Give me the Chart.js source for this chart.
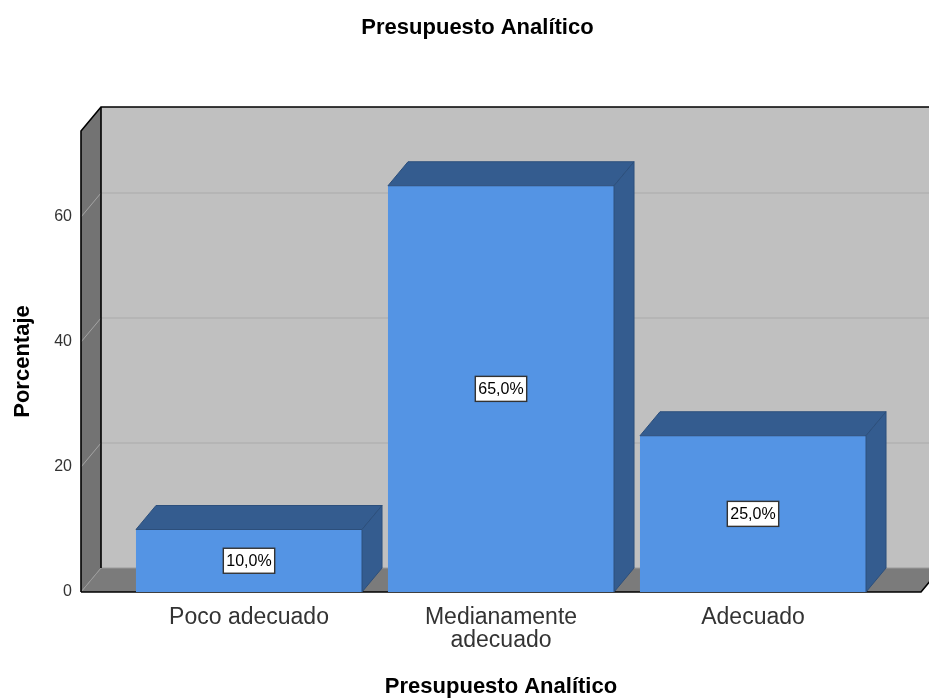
<!DOCTYPE html>
<html>
<head>
<meta charset="utf-8">
<script src="https://cdn.jsdelivr.net/npm/chart.js@4"></script>
<style>
  html, body { margin: 0; padding: 0; background: #fff; overflow: hidden; }
  #wrap { position: relative; width: 955px; height: 698px; }
</style>
</head>
<body>
<div id="wrap"><canvas id="c"></canvas></div>
<script>
const categories = ['Poco adecuado', ['Medianamente', 'adecuado'], 'Adecuado'];
const percentages = [10, 65, 25];
const yTicks = [0, 20, 40, 60];
const yMax = 73.76;
const chartTitle = 'Presupuesto Analítico';
const xTitle = 'Presupuesto Analítico';
const yTitle = 'Porcentaje';

const FONT = "'Liberation Sans', Arial, sans-serif";
const DX = 20, DY = -24;

const box3d = {
  id: 'box3d',
  beforeDatasetsDraw(chart) {
    const {ctx, chartArea: a, scales: {x, y}} = chart;
    const catW = x.getPixelForTick(1) - x.getPixelForTick(0);
    const ext = catW / 6;
    const L = a.left - ext, R = a.right + ext, T = a.top, B = y.getPixelForValue(0);
    ctx.save();
    ctx.fillStyle = '#c0c0c0';
    ctx.fillRect(L + DX, T + DY, R - L, B - T);
    ctx.fillStyle = '#737373';
    ctx.beginPath();
    ctx.moveTo(L, T); ctx.lineTo(L + DX, T + DY); ctx.lineTo(L + DX, B + DY); ctx.lineTo(L, B);
    ctx.closePath(); ctx.fill();
    ctx.fillStyle = '#7b7b7b';
    ctx.beginPath();
    ctx.moveTo(L, B); ctx.lineTo(L + DX, B + DY); ctx.lineTo(R + DX, B + DY); ctx.lineTo(R, B);
    ctx.closePath(); ctx.fill();
    yTicks.forEach(v => {
      if (v === 0) return;
      const py = y.getPixelForValue(v);
      ctx.strokeStyle = '#a4a4a4';
      ctx.lineWidth = 1;
      ctx.beginPath(); ctx.moveTo(L, py); ctx.lineTo(L + DX, py + DY); ctx.stroke();
      ctx.strokeStyle = '#aaaaaa';
      ctx.beginPath(); ctx.moveTo(L + DX, py + DY); ctx.lineTo(R + DX, py + DY); ctx.stroke();
    });
    ctx.strokeStyle = '#9a9a9a';
    ctx.lineWidth = 1;
    ctx.beginPath(); ctx.moveTo(L + DX, B + DY); ctx.lineTo(R + DX, B + DY); ctx.stroke();
    ctx.beginPath(); ctx.moveTo(L, B); ctx.lineTo(L + DX, B + DY); ctx.stroke();
    ctx.strokeStyle = '#000';
    ctx.lineWidth = 1.6;
    ctx.beginPath();
    ctx.moveTo(L, B); ctx.lineTo(L, T); ctx.lineTo(L + DX, T + DY); ctx.lineTo(R + DX, T + DY);
    ctx.stroke();
    ctx.beginPath(); ctx.moveTo(L + DX, T + DY); ctx.lineTo(L + DX, B + DY); ctx.stroke();
    ctx.beginPath(); ctx.moveTo(L, B); ctx.lineTo(R, B); ctx.lineTo(R + DX, B + DY); ctx.stroke();
    ctx.restore();
  },
  afterDatasetsDraw(chart) {
    const {ctx, scales: {y}} = chart;
    const meta = chart.getDatasetMeta(0);
    const B = y.getPixelForValue(0);
    ctx.save();
    meta.data.forEach((bar, i) => {
      const p = bar.getProps(['x', 'y', 'width', 'base'], true);
      const x0 = p.x - p.width / 2, x1 = p.x + p.width / 2, yt = p.y;
      ctx.fillStyle = '#345c8f';
      ctx.strokeStyle = '#2c4f7c';
      ctx.lineWidth = 1;
      ctx.beginPath();
      ctx.moveTo(x0, yt); ctx.lineTo(x0 + DX, yt + DY); ctx.lineTo(x1 + DX, yt + DY); ctx.lineTo(x1, yt);
      ctx.closePath(); ctx.fill(); ctx.stroke();
      ctx.beginPath();
      ctx.moveTo(x1, yt); ctx.lineTo(x1 + DX, yt + DY); ctx.lineTo(x1 + DX, B + DY); ctx.lineTo(x1, B);
      ctx.closePath(); ctx.fill(); ctx.stroke();
      const txt = percentages[i].toFixed(1).replace('.', ',') + '%';
      ctx.font = '16px ' + FONT;
      const w = ctx.measureText(txt).width + 6;
      const h = 25;
      const cy = (yt + B) / 2;
      ctx.fillStyle = '#fff';
      ctx.fillRect(p.x - w / 2, cy - h / 2, w, h);
      ctx.strokeStyle = '#333';
      ctx.lineWidth = 1.4;
      ctx.strokeRect(p.x - w / 2, cy - h / 2, w, h);
      ctx.fillStyle = '#000';
      ctx.textAlign = 'center';
      ctx.textBaseline = 'middle';
      ctx.fillText(txt, p.x, cy + 1);
    });
    ctx.restore();
  }
};

new Chart(document.getElementById('c'), {
  type: 'bar',
  data: {
    labels: categories,
    datasets: [{
      data: percentages,
      backgroundColor: '#5494e4',
      borderWidth: 0,
      categoryPercentage: 1,
      barPercentage: 0.897
    }]
  },
  options: {
    responsive: true,
    maintainAspectRatio: false,
    animation: false,
    layout: { padding: 0 },
    plugins: {
      legend: { display: false },
      tooltip: { enabled: false },
      title: {
        display: true,
        text: chartTitle,
        color: '#000',
        font: { family: FONT, size: 22, weight: 'bold', lineHeight: 1.2 },
        padding: { top: 14.8, bottom: 89.8 }
      }
    },
    scales: {
      x: {
        grid: { display: false, drawTicks: false },
        border: { display: false },
        ticks: {
          color: '#333',
          font: { family: FONT, size: 23, lineHeight: 1.0 },
          padding: 14,
          maxRotation: 0,
          autoSkip: false
        },
        title: {
          display: true,
          text: xTitle,
          color: '#000',
          font: { family: FONT, size: 22, weight: 'bold', lineHeight: 1.2 },
          padding: { top: 0, bottom: -2 }
        },
        afterFit(s) { s.height = 106; }
      },
      y: {
        min: 0,
        max: yMax,
        grid: { display: false, drawTicks: false },
        border: { display: false },
        ticks: {
          stepSize: 20,
          includeBounds: false,
          color: '#333',
          padding: 51,
          font: { family: FONT, size: 16 }
        },
        title: {
          display: true,
          text: yTitle,
          color: '#000',
          font: { family: FONT, size: 22, weight: 'bold', lineHeight: 1.2 },
          padding: { top: 10, bottom: 0 }
        },
        afterFit(s) { s.width = 123; }
      },
      spacer: {
        type: 'linear',
        position: 'right',
        display: true,
        grid: { display: false, drawTicks: false },
        border: { display: false },
        ticks: { display: false },
        afterFit(s) { s.width = 76; }
      }
    }
  },
  plugins: [box3d]
});
</script>
</body>
</html>
